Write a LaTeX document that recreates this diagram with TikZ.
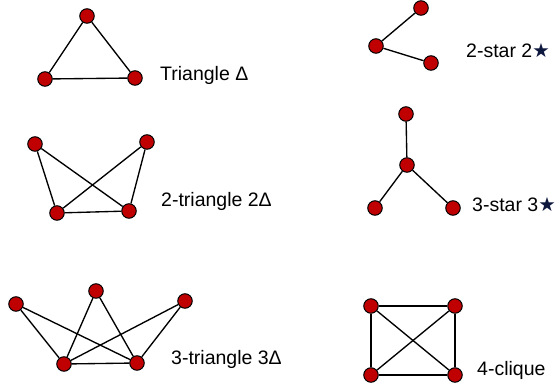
\documentclass[tikz,border=0pt]{standalone}
\usepackage{fontspec}
\setmainfont{Liberation Sans}
\newfontfamily\symfont{DejaVu Sans}
\usepackage{tikz}
\usetikzlibrary{positioning}
\definecolor{vred}{RGB}{192,0,0}
\definecolor{starnavy}{RGB}{14,24,62}
\tikzset{
  vtx/.style={circle,draw=black,fill=vred,minimum size=14.5pt,inner sep=0pt,line width=1pt},
  edg/.style={line width=1.35pt},
  lbl/.style={anchor=base west,font=\fontsize{19.5}{22}\selectfont,inner sep=0pt},
}

\begin{document}
\begin{tikzpicture}[x=1pt,y=-1pt]
  \useasboundingbox (0,0) rectangle (558,387);
  % triangle
  \node[vtx] (t1) at (87,16) {};
  \node[vtx] (t2) at (45,79) {};
  \node[vtx] (t3) at (135,78) {};
  \draw[edg] (t1)--(t2)--(t3)--(t1);
  \node[lbl] (lt) at (160,81) {Triangle Δ};
  % 2-triangle
  \node[vtx] (a1) at (35,144) {};
  \node[vtx] (a2) at (147,142) {};
  \node[vtx] (a3) at (57,213) {};
  \node[vtx] (a4) at (129,211) {};
  \foreach \u/\v in {a1/a3,a1/a4,a2/a3,a2/a4,a3/a4}
    \draw[edg] (\u)--(\v);
  \node[lbl] (la) at (161,207) {2-triangle 2Δ};
  % 3-triangle
  \node[vtx] (b1) at (16,304) {};
  \node[vtx] (b2) at (96,291) {};
  \node[vtx] (b3) at (185,301) {};
  \node[vtx] (b4) at (64,364) {};
  \node[vtx] (b5) at (137,363) {};
  \foreach \u in {b1,b2,b3}{
    \draw[edg] (\u)--(b4);
    \draw[edg] (\u)--(b5);
  }
  \draw[edg] (b4)--(b5);
  \node[lbl] (lb) at (171,365) {3-triangle 3Δ};
  % 2-star
  \node[vtx] (s1) at (421,8) {};
  \node[vtx] (s2) at (376,46) {};
  \node[vtx] (s3) at (431,63) {};
  \draw[edg] (s1)--(s2)--(s3);
  \node[lbl] (ls) at (466,58) {2-star 2{\symfont\color{starnavy}★}};
  % 3-star
  \node[vtx] (r1) at (406,114) {};
  \node[vtx] (r2) at (407,165) {};
  \node[vtx] (r3) at (375,208) {};
  \node[vtx] (r4) at (453,208) {};
  \foreach \u in {r1,r3,r4}
    \draw[edg] (r2)--(\u);
  \node[lbl] (lr) at (472,212) {3-star 3{\symfont\color{starnavy}★}};
  % 4-clique
  \node[vtx] (q1) at (371,306) {};
  \node[vtx] (q2) at (455,306) {};
  \node[vtx] (q3) at (371,375) {};
  \node[vtx] (q4) at (455,375) {};
  \foreach \u/\v in {q1/q2,q1/q3,q1/q4,q2/q3,q2/q4,q3/q4}
    \draw[edg] (\u)--(\v);
  \node[lbl] (lq) at (477,376) {4-clique};
\end{tikzpicture}
\end{document}
